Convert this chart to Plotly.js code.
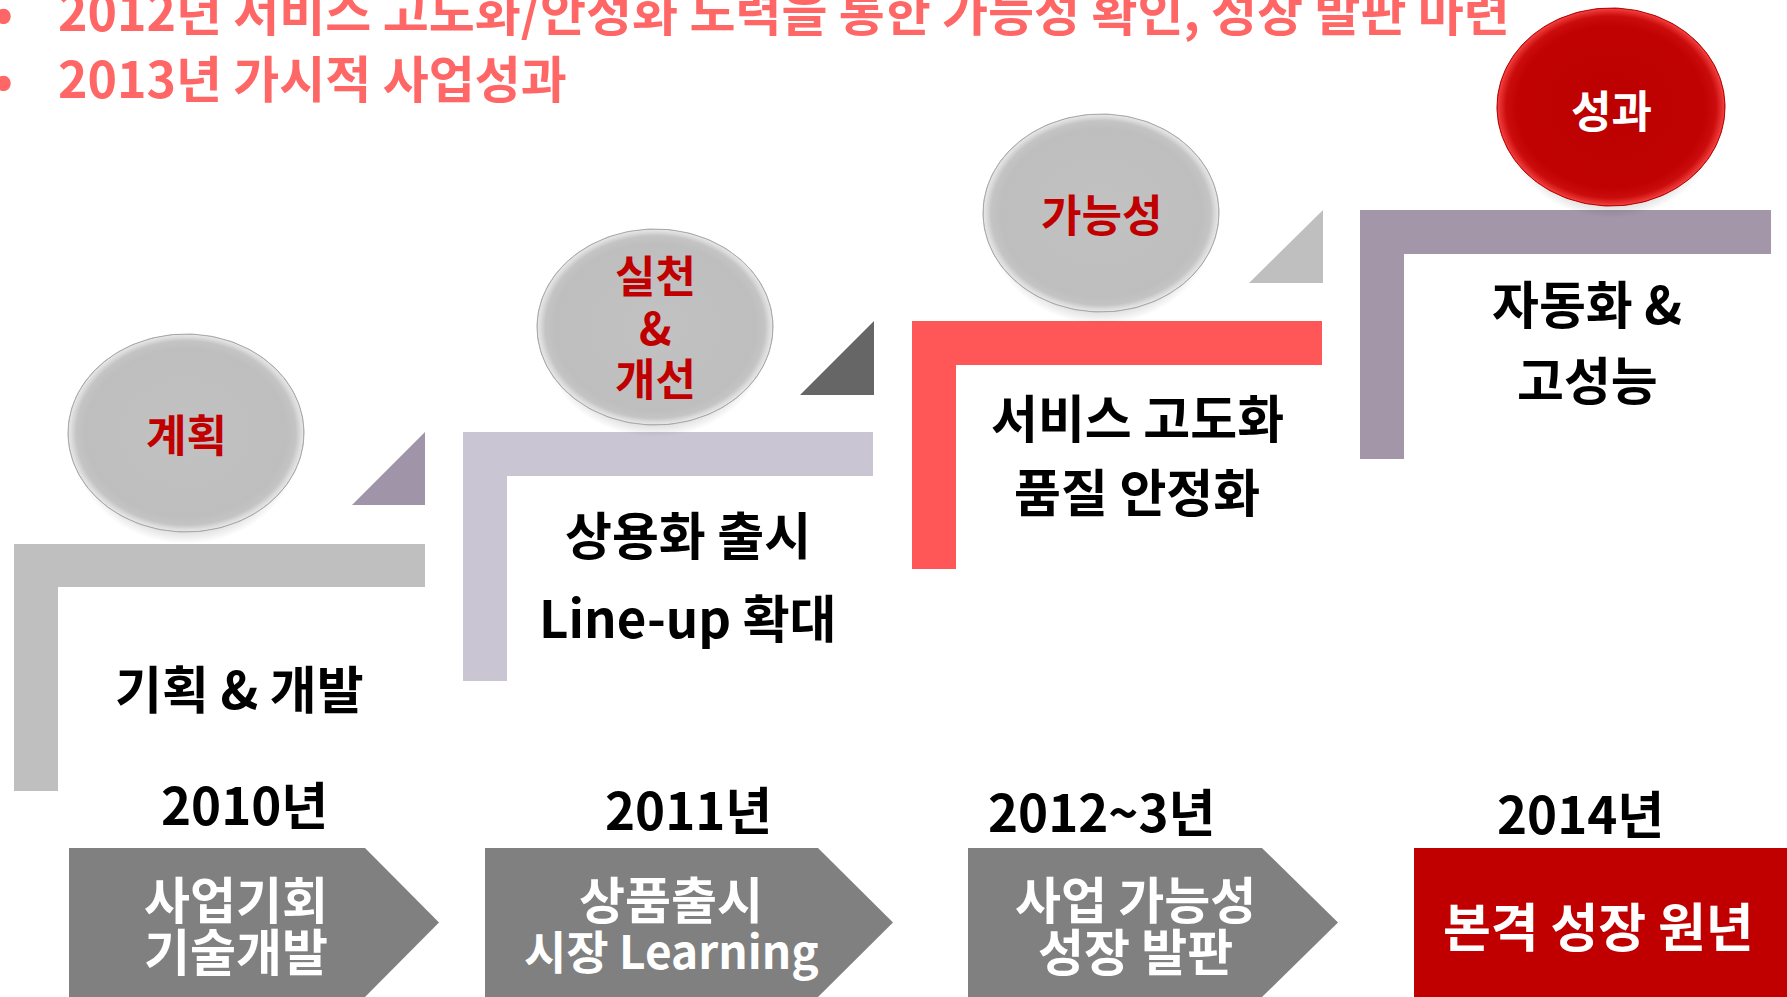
<!DOCTYPE html>
<html><head><meta charset="utf-8">
<script src="https://cdn.plot.ly/plotly-3.0.1.min.js"></script>
<style>html,body{margin:0;padding:0;background:#fff;overflow:hidden}#chart{width:1787px;height:997px}</style>
</head><body><div id="chart"></div>
<script>
// ---------------- data (text content) ----------------
const headlines = [
  '2012년 서비스 고도화/안정화 노력을 통한 가능성 확인, 성장 발판 마련',
  '2013년 가시적 사업성과'
];
const bubbleLabels = [['계획'], ['실천', '&', '개선'], ['가능성'], ['성과']];
const stepTexts = [['기획 & 개발'], ['상용화 출시', 'Line-up 확대'], ['서비스 고도화', '품질 안정화'], ['자동화 &', '고성능']];
const yearLabels = ['2010년', '2011년', '2012~3년', '2014년'];
const phaseTexts = [['사업기회', '기술개발'], ['상품출시', '시장 Learning'], ['사업 가능성', '성장 발판'], ['본격 성장 원년']];

// ---------------- geometry / styling (canvas px) ----------------
const W = 1787, H = 997;
const FONT = '"Noto Sans CJK KR", "Noto Sans", sans-serif';
const steps = [
  {x0: 14,   x1: 425,  top: 544, bar: 43, stem: 44, bottom: 791, color: '#BFBFBF'},
  {x0: 463,  x1: 873,  top: 432, bar: 44, stem: 44, bottom: 681, color: '#CAC5D2'},
  {x0: 912,  x1: 1322, top: 321, bar: 44, stem: 44, bottom: 569, color: '#FF5757'},
  {x0: 1360, x1: 1771, top: 210, bar: 44, stem: 44, bottom: 459, color: '#A396A9'}
];
const tris = [
  {x0: 352, x1: 425,  y0: 432, y1: 505, color: '#A094A8'},
  {x0: 800, x1: 874,  y0: 321, y1: 395, color: '#666666'},
  {x0: 1249, x1: 1323, y0: 210, y1: 283, color: '#BFBFBF'}
];
const silverScale = [[0, '#C2C2C2'], [0.85, '#BEBEBE'], [0.93, '#C4C4C4'], [0.975, '#DEDEDE'], [0.992, '#E4E4E4'], [1, '#A2A2A2']];
const redScale = [[0, '#BC0000'], [0.82, '#C00202'], [0.92, '#CA0C0C'], [0.975, '#E83030'], [0.992, '#F04040'], [1, '#B00000']];
const shadowScale = [[0, 'rgba(0,0,0,0.22)'], [0.84, 'rgba(0,0,0,0.16)'], [0.94, 'rgba(0,0,0,0.06)'], [1, 'rgba(0,0,0,0)']];
const bubbles = [
  {cx: 186,  cy: 433, rx: 118, ry: 99, scale: silverScale, rim: '#A8A8A8', text: '#C00000', ty: [433]},
  {cx: 655,  cy: 327, rx: 118, ry: 98, scale: silverScale, rim: '#A8A8A8', text: '#C00000', ty: [274, 326, 377]},
  {cx: 1101, cy: 213, rx: 118, ry: 99, scale: silverScale, rim: '#A8A8A8', text: '#C00000', ty: [213]},
  {cx: 1611, cy: 107, rx: 114, ry: 99, scale: redScale, rim: '#B80000', text: '#FFFFFF', ty: [109]}
];
const stepTextPos = [
  {x: 239, y: [687]},
  {x: 688, y: [533, 616]},
  {x: 1137, y: [416, 490]},
  {x: 1587, y: [302, 378]}
];
const yearPos = [{x: 244, y: 803}, {x: 688, y: 808}, {x: 1101, y: 810}, {x: 1580, y: 812}];
const phases = [
  {x0: 69,  x1: 365,  tip: 439,  color: '#808080', tx: 236,  ty: [897, 949], size: [50, 50]},
  {x0: 485, x1: 818,  tip: 893,  color: '#808080', tx: 671,  ty: [897, 949], size: [50, 46]},
  {x0: 968, x1: 1262, tip: 1338, color: '#808080', tx: 1135, ty: [897, 949], size: [50, 50]},
  {x0: 1414, x1: 1787, tip: null, color: '#C00000', tx: 1598, ty: [924], size: [52]}
];
const phaseTop = 848, phaseBottom = 997;
const headlinePos = {bulletX: 3, textX: 56, y: [9, 76]};
const SIZE = {headline: 50, bubble: 44, step: 51, year: 51};

// ---------------- build ----------------
const shapes = [];
const annotations = [];
const traces = [];

function label(text, x, y, size, color, extra) {
  annotations.push(Object.assign({
    text: text, x: x, y: y, xref: 'x', yref: 'y', showarrow: false,
    xanchor: 'center', yanchor: 'middle',
    font: {family: FONT, size: size, color: color, weight: 700}
  }, extra || {}));
}
function ellipse(cx, cy, rx, ry) {
  const xs = [], ys = [];
  for (let k = 0; k <= 180; k++) {
    const a = 2 * Math.PI * k / 180;
    xs.push(cx + rx * Math.cos(a));
    ys.push(cy + ry * Math.sin(a));
  }
  return {x: xs, y: ys};
}

// L-shaped steps
steps.forEach(s => {
  shapes.push({
    type: 'path', layer: 'below', xref: 'x', yref: 'y', fillcolor: s.color, line: {width: 0},
    path: `M ${s.x0},${s.top} L ${s.x1},${s.top} L ${s.x1},${s.top + s.bar} L ${s.x0 + s.stem},${s.top + s.bar} L ${s.x0 + s.stem},${s.bottom} L ${s.x0},${s.bottom} Z`
  });
});
// triangles
tris.forEach(t => {
  shapes.push({
    type: 'path', layer: 'below', xref: 'x', yref: 'y', fillcolor: t.color, line: {width: 0},
    path: `M ${t.x0},${t.y1} L ${t.x1},${t.y1} L ${t.x1},${t.y0} Z`
  });
});
// bubbles (traces with radial fill gradients)
bubbles.forEach((b, i) => {
  const sh = ellipse(b.cx, b.cy + 12, b.rx - 5, b.ry);
  traces.push({type: 'scatter', mode: 'lines', x: sh.x, y: sh.y, fill: 'toself', hoverinfo: 'skip',
    line: {width: 0, color: 'rgba(0,0,0,0)'},
    fillgradient: {type: 'radial', colorscale: shadowScale}
  });
  const e = ellipse(b.cx, b.cy, b.rx, b.ry);
  traces.push({type: 'scatter', mode: 'lines', x: e.x, y: e.y, fill: 'toself', hoverinfo: 'skip',
    line: {width: 1, color: b.rim},
    fillgradient: {type: 'radial', colorscale: b.scale}
  });
  bubbleLabels[i].forEach((t, k) => label(t, b.cx, b.ty[k], SIZE.bubble, b.text));
});
// step texts
stepTexts.forEach((lines, i) => lines.forEach((t, k) => label(t, stepTextPos[i].x, stepTextPos[i].y[k], SIZE.step, '#000000')));
// years
yearLabels.forEach((t, i) => label(t, yearPos[i].x, yearPos[i].y, SIZE.year, '#000000'));
// phases
const mid = (phaseTop + phaseBottom) / 2;
phases.forEach((p, i) => {
  const path = p.tip === null
    ? `M ${p.x0},${phaseTop} L ${p.x1},${phaseTop} L ${p.x1},${phaseBottom} L ${p.x0},${phaseBottom} Z`
    : `M ${p.x0},${phaseTop} L ${p.x1},${phaseTop} L ${p.tip},${mid} L ${p.x1},${phaseBottom} L ${p.x0},${phaseBottom} Z`;
  shapes.push({type: 'path', layer: 'below', xref: 'x', yref: 'y', fillcolor: p.color, line: {width: 0}, path: path});
  phaseTexts[i].forEach((t, k) => label(t, p.tx, p.ty[k], p.size[k], '#FFFFFF'));
});
// headlines
headlines.forEach((t, i) => {
  label('•', headlinePos.bulletX, headlinePos.y[i], SIZE.headline, '#FF6666');
  label(t, headlinePos.textX, headlinePos.y[i], SIZE.headline, '#FF6666', {xanchor: 'left'});
});

const layout = {
  width: W, height: H,
  margin: {l: 0, r: 0, t: 0, b: 0, pad: 0},
  paper_bgcolor: '#FFFFFF', plot_bgcolor: '#FFFFFF',
  showlegend: false,
  xaxis: {range: [0, W], visible: false, fixedrange: true, autorange: false},
  yaxis: {range: [H, 0], visible: false, fixedrange: true, autorange: false},
  shapes: shapes,
  annotations: annotations
};
Plotly.newPlot('chart', traces, layout, {staticPlot: true, displayModeBar: false});
</script>
</body></html>
